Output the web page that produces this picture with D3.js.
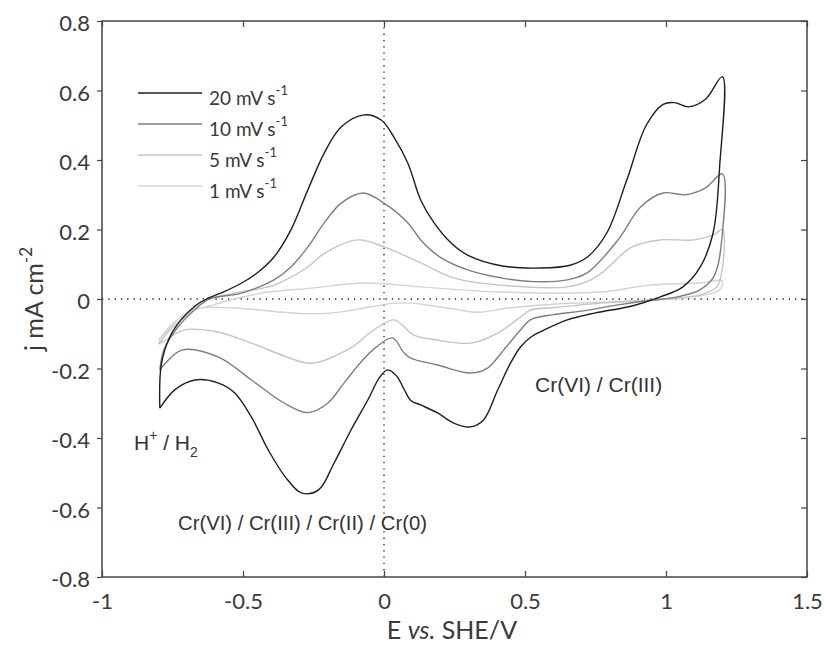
<!DOCTYPE html>
<html>
<head>
<meta charset="utf-8">
<script src="https://cdn.jsdelivr.net/npm/d3@7"></script>
<style>
  body { margin: 0; background: #fff; }
  svg text { font-family: Lato, "Open Sans", sans-serif; fill: #3a3a3a; }
  .note { font-family: "Liberation Sans", Arial, sans-serif; fill: #333; }
</style>
</head>
<body>
<svg id="chart" width="824" height="646"></svg>
<script>
// cyclic voltammograms, [E (V vs SHE), j (mA cm-2)], anodic scan then cathodic scan
var cv20 = [[-0.795,-0.314],[-0.79,-0.19],[-0.76,-0.11],[-0.72,-0.06],[-0.67,-0.02],[-0.63,0],[-0.57,0.02],
  [-0.505,0.046],[-0.45,0.075],[-0.39,0.121],[-0.33,0.199],[-0.27,0.314],[-0.212,0.42],[-0.152,0.495],
  [-0.071,0.53],[-0.01,0.515],[0.035,0.466],[0.085,0.39],[0.13,0.285],[0.177,0.22],[0.24,0.16],[0.3,0.125],
  [0.42,0.095],[0.555,0.089],[0.66,0.097],[0.72,0.12],[0.79,0.19],[0.86,0.34],[0.93,0.5],[0.99,0.56],
  [1.03,0.565],[1.08,0.553],[1.14,0.575],[1.2,0.64],
  [1.19,0.38],[1.167,0.19],[1.12,0.09],[1.06,0.035],[0.98,0.006],[0.88,-0.02],[0.75,-0.04],[0.65,-0.06],
  [0.566,-0.09],[0.52,-0.11],[0.484,-0.138],[0.449,-0.184],[0.403,-0.262],[0.353,-0.348],[0.307,-0.368],
  [0.247,-0.357],[0.19,-0.328],[0.13,-0.305],[0.095,-0.292],[0.07,-0.258],[0.045,-0.222],[0.013,-0.204],
  [-0.015,-0.225],[-0.057,-0.29],[-0.117,-0.377],[-0.177,-0.472],[-0.233,-0.55],[-0.293,-0.558],
  [-0.35,-0.512],[-0.41,-0.435],[-0.47,-0.34],[-0.53,-0.27],[-0.587,-0.242],[-0.67,-0.233],[-0.74,-0.26],
  [-0.795,-0.314]];
var cv10 = [[-0.795,-0.204],[-0.78,-0.145],[-0.73,-0.08],[-0.67,-0.03],[-0.62,0],[-0.505,0.017],
  [-0.39,0.055],[-0.33,0.092],[-0.27,0.15],[-0.212,0.219],[-0.152,0.276],[-0.074,0.305],[0,0.276],
  [0.085,0.219],[0.13,0.17],[0.2,0.12],[0.3,0.083],[0.42,0.06],[0.53,0.05],[0.65,0.055],[0.72,0.075],
  [0.83,0.17],[0.91,0.265],[0.99,0.305],[1.07,0.3],[1.14,0.32],[1.2,0.36],
  [1.2,0.19],[1.17,0.065],[1.12,0.026],[1.04,0.006],[0.93,-0.005],[0.83,-0.017],[0.7,-0.035],[0.6,-0.045],
  [0.519,-0.06],[0.484,-0.089],[0.424,-0.147],[0.367,-0.199],[0.307,-0.213],[0.19,-0.19],[0.095,-0.17],
  [0.071,-0.155],[0.03,-0.112],[-0.03,-0.14],[-0.08,-0.18],[-0.14,-0.24],[-0.2,-0.3],[-0.27,-0.327],
  [-0.353,-0.3],[-0.47,-0.233],[-0.587,-0.167],[-0.717,-0.147],[-0.795,-0.204]];
var cv5 = [[-0.8,-0.13],[-0.76,-0.09],[-0.69,-0.04],[-0.65,-0.008],[-0.53,0.017],[-0.39,0.04],
  [-0.27,0.092],[-0.21,0.132],[-0.092,0.17],[0,0.15],[0.13,0.104],[0.25,0.06],[0.41,0.04],[0.65,0.035],
  [0.72,0.05],[0.77,0.074],[0.88,0.15],[0.98,0.17],[1.1,0.17],[1.17,0.185],[1.2,0.2],
  [1.2,0.09],[1.18,0.035],[1.12,0.012],[1.0,0],[0.77,-0.012],[0.6,-0.025],[0.519,-0.032],[0.484,-0.052],
  [0.403,-0.098],[0.307,-0.127],[0.19,-0.118],[0.106,-0.104],[0.035,-0.06],[-0.046,-0.095],[-0.117,-0.14],
  [-0.258,-0.185],[-0.35,-0.165],[-0.47,-0.127],[-0.59,-0.095],[-0.707,-0.089],[-0.777,-0.12],[-0.8,-0.13]];
var cv1 = [[-0.8,-0.12],[-0.76,-0.08],[-0.69,-0.037],[-0.62,-0.02],[-0.53,0],[-0.41,0.02],[-0.27,0.03],
  [-0.07,0.046],[0.13,0.035],[0.41,0.02],[0.77,0.02],[0.94,0.04],[1.12,0.046],[1.2,0.052],
  [1.19,0.026],[1.14,0.012],[1.06,0.003],[0.98,-0.002],[0.75,-0.01],[0.6,-0.015],[0.45,-0.025],
  [0.33,-0.038],[0.24,-0.028],[0.1,-0.012],[0.04,-0.012],[-0.05,-0.023],[-0.18,-0.04],[-0.29,-0.042],
  [-0.53,-0.026],[-0.65,-0.026],[-0.71,-0.046],[-0.8,-0.12]];

var scanNames = ["20", "10", "5", "1"];
var scanData = [cv20, cv10, cv5, cv1];
var scanColors = ["#1e1e1e", "#7e7e7e", "#c4c4c4", "#d6d3ce"];

var xTicks = [-1, -0.5, 0, 0.5, 1, 1.5];
var yTicks = [-0.8, -0.6, -0.4, -0.2, 0, 0.2, 0.4, 0.6, 0.8];

var svg = d3.select("#chart");
var margin = {top: 21, right: 17, bottom: 69, left: 102},
    width = 824 - margin.left - margin.right,
    height = 646 - margin.top - margin.bottom;

var x = d3.scaleLinear().domain([-1, 1.5]).range([margin.left, margin.left + width]);
var y = d3.scaleLinear().domain([-0.8, 0.8]).range([margin.top + height, margin.top]);

// dotted zero lines
svg.append("line")
    .attr("x1", x(-1)).attr("x2", x(1.5)).attr("y1", y(0)).attr("y2", y(0))
    .attr("stroke", "#222").attr("stroke-width", 1.3).attr("stroke-dasharray", "1.3,5");
svg.append("line")
    .attr("x1", x(0)).attr("x2", x(0)).attr("y1", y(0.8)).attr("y2", y(-0.8))
    .attr("stroke", "#222").attr("stroke-width", 1.3).attr("stroke-dasharray", "1.3,5");

var line = d3.line()
    .x(function(d){ return x(d[0]); })
    .y(function(d){ return y(d[1]); })
    .curve(d3.curveCatmullRom.alpha(0.5));

// lightest first so the dark scans sit on top
for (var i = scanData.length - 1; i >= 0; i--) {
    svg.append("path")
        .datum(scanData[i])
        .attr("fill", "none")
        .attr("stroke", scanColors[i])
        .attr("stroke-width", 1.4)
        .attr("d", line);
}

// axes
var xAxisBottom = d3.axisBottom(x).tickValues(xTicks).tickSizeInner(-6).tickSizeOuter(0).tickPadding(16)
    .tickFormat(function(d){ return d; });
var xAxisTop = d3.axisTop(x).tickValues(xTicks).tickSizeInner(-6).tickSizeOuter(0).tickFormat("");
var yAxisLeft = d3.axisLeft(y).tickValues(yTicks).tickSizeInner(5).tickSizeOuter(0).tickPadding(7)
    .tickFormat(function(d){ return d; });
var yAxisRight = d3.axisRight(y).tickValues(yTicks).tickSizeInner(-6).tickSizeOuter(0).tickFormat("");

function styleAxis(g) {
    g.select(".domain").remove();
    g.selectAll(".tick line").attr("stroke", "#444").attr("stroke-width", 1.2);
    g.selectAll(".tick text").attr("font-size", 22).attr("fill", "#3a3a3a")
        .style("font-family", "Lato, 'Open Sans', sans-serif");
}
svg.append("g").attr("transform", "translate(0," + y(-0.8) + ")").call(xAxisBottom).call(styleAxis);
svg.append("g").attr("transform", "translate(0," + y(0.8) + ")").call(xAxisTop).call(styleAxis);
svg.append("g").attr("transform", "translate(" + x(-1) + ",0)").call(yAxisLeft).call(styleAxis)
    .selectAll(".tick text").attr("dy", "0.45em");
svg.append("g").attr("transform", "translate(" + x(1.5) + ",0)").call(yAxisRight).call(styleAxis);

// frame
svg.append("rect")
    .attr("x", x(-1)).attr("y", y(0.8))
    .attr("width", x(1.5) - x(-1)).attr("height", y(-0.8) - y(0.8))
    .attr("fill", "none").attr("stroke", "#444").attr("stroke-width", 1.5);

// axis titles
var xt = svg.append("text").attr("x", 452).attr("y", 639).attr("text-anchor", "middle").attr("font-size", 25);
xt.append("tspan").text("E ");
xt.append("tspan").attr("font-style", "italic").text("vs.");
xt.append("tspan").text(" SHE/V");

var yt = svg.append("text").attr("transform", "translate(43," + y(0) + ") rotate(-90)")
    .attr("text-anchor", "middle").attr("font-size", 25);
yt.append("tspan").text("j mA cm");
yt.append("tspan").attr("dy", -11).attr("font-size", 17).text("-2");

// legend
var legend = svg.append("g");
scanNames.forEach(function(name, i) {
    var ly = 93 + i * 31;
    legend.append("line")
        .attr("x1", 138).attr("x2", 202).attr("y1", ly).attr("y2", ly)
        .attr("stroke", scanColors[i]).attr("stroke-width", 1.6);
    var t = legend.append("text").attr("x", 209).attr("y", ly + 12).attr("font-size", 19);
    t.append("tspan").text(name + " mV s");
    t.append("tspan").attr("dy", -10).attr("font-size", 13).text("-1");
});

// annotations
var h = svg.append("text").attr("class", "note").attr("x", 134).attr("y", 450).attr("font-size", 21);
h.append("tspan").text("H");
h.append("tspan").attr("dy", -10).attr("font-size", 14).text("+");
h.append("tspan").attr("dy", 10).text(" / H");
h.append("tspan").attr("dy", 7).attr("font-size", 14).text("2");

svg.append("text").attr("class", "note").attr("x", 178).attr("y", 530).attr("font-size", 20.3)
    .text("Cr(VI) / Cr(III) / Cr(II) / Cr(0)");
svg.append("text").attr("class", "note").attr("x", 535).attr("y", 392).attr("font-size", 21)
    .text("Cr(VI) / Cr(III)");
</script>
</body>
</html>
